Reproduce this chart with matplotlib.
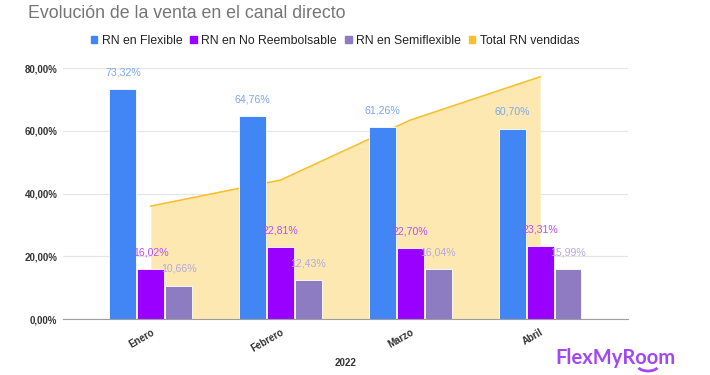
import numpy as np
import matplotlib
matplotlib.use("Agg")
import matplotlib.pyplot as plt
from matplotlib.patches import Patch, Arc

################################################################################
# Datos

meses = ["Enero", "Febrero", "Marzo", "Abril"]
flexible = [73.32, 64.76, 61.26, 60.70]
no_reembolsable = [16.02, 22.81, 22.70, 23.31]
semiflexible = [10.66, 12.43, 16.04, 15.99]
total_rn = [36.0, 44.3, 63.4, 77.2]
y_ticks = [0, 20, 40, 60, 80]

################################################################################
# Figura

plt.rcParams['font.family'] = ['Liberation Sans', 'DejaVu Sans']

fig = plt.figure(figsize=(7.1, 3.75), dpi=100)
ax = fig.add_axes([0.0887, 0.1493, 0.7958, 0.6693])

x = np.arange(len(meses))
w = 0.207
off = 0.215

# Area del total (detras de las barras)
ax.fill_between(x, 0, total_rn, color="#fde8b2", zorder=1, lw=0)
ax.plot(x, total_rn, color="#f7c12e", lw=1.2, zorder=2)

series = [
    (flexible, -off, "#4285f4", "#7aa6f7", "RN en Flexible"),
    (no_reembolsable, 0, "#9900ff", "#b84dff", "RN en No Reembolsable"),
    (semiflexible, off, "#8e7cc3", "#b3a8dd", "RN en Semiflexible"),
]

for vals, dx, col, lcol, name in series:
    ax.bar(x + dx, vals, width=w, color=col, edgecolor="white", lw=0.6, zorder=3)
    for xi, v in zip(x + dx, vals):
        ax.annotate(("%.2f%%" % v).replace(".", ","), (xi, v), xytext=(0, 12),
                    textcoords="offset points", ha="center", va="center",
                    fontsize=7.6, color=lcol, zorder=4)

ax.set_xlim(-0.677, 3.677)
ax.set_ylim(0, 80)
ax.set_yticks(y_ticks)
ax.set_yticklabels([("%.2f%%" % t).replace(".", ",") for t in y_ticks],
                   fontsize=7, fontweight="bold", color="#333333")
ax.set_xticks(x)
ax.set_xticklabels(meses, rotation=30, ha="right", rotation_mode="anchor",
                   fontsize=7, fontweight="bold", color="#333333")
ax.tick_params(length=0, pad=4)
ax.tick_params(axis="x", pad=6)
ax.grid(axis="y", color="#e6e6e6", lw=0.9, zorder=0)
ax.set_axisbelow(True)
for s in ["top", "right", "left"]:
    ax.spines[s].set_visible(False)
ax.spines["bottom"].set_color("#9e9e9e")
ax.spines["bottom"].set_zorder(5)

fig.text(346 / 710, 1 - 363 / 375, "2022", ha="center", va="center",
         fontsize=7, fontweight="bold", color="#333333")

# Titulo
fig.text(28 / 710, 1 - 13 / 375, "Evolución de la venta en el canal directo",
         ha="left", va="center", fontsize=12.8, color="#757575")

# Leyenda
handles = [Patch(color=c) for _, _, c, _, _ in series] + [Patch(color="#f7c12e")]
labels = [n for _, _, _, _, n in series] + ["Total RN vendidas"]
fig.legend(handles, labels, loc="center", bbox_to_anchor=(335 / 710, 1 - 41 / 375),
           ncol=4, frameon=False, fontsize=8.8, handlelength=0.55, handleheight=0.55,
           handletextpad=0.35, columnspacing=0.65, labelcolor="#222222")

# Logo
logo = "#a347f5"
fig.text(555 / 710, 1 - 358 / 375, "FlexMyRoom", ha="left", va="center",
         fontsize=14.5, fontweight="bold", family="Lato", color=logo)
fig.add_artist(Arc((648 / 710, 1 - 366 / 375), 20 / 710, 10 / 375, theta1=200,
                   theta2=340, transform=fig.transFigure, color=logo, lw=2))

fig.savefig("out.png", dpi=100)
